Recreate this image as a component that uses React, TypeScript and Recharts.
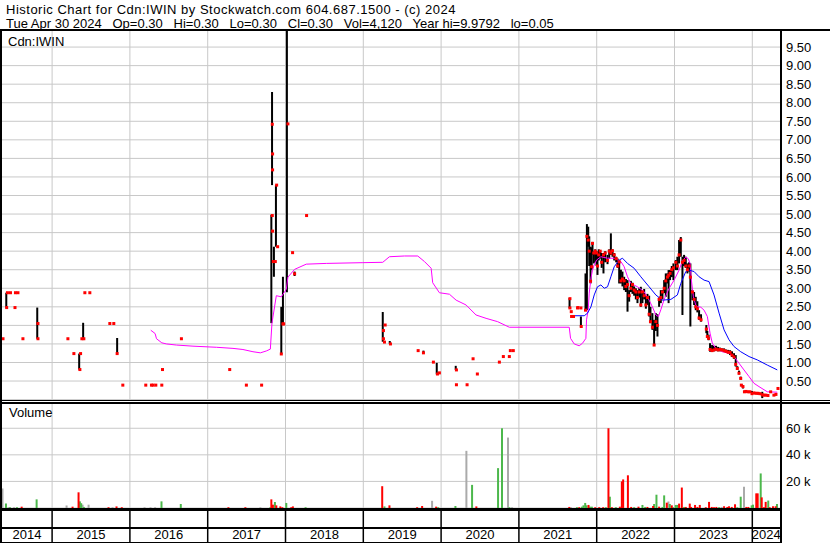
import { ComposedChart, Scatter, Line, XAxis, YAxis, CartesianGrid, ReferenceLine, ErrorBar } from 'recharts'

// time axis in fractional years
const T_START = 2014.356
const T_END = 2024.356
const yearBounds = [2015, 2016, 2017, 2018, 2019, 2020, 2021, 2022, 2023, 2024]
const yearNames = [2014, 2015, 2016, 2017, 2018, 2019, 2020, 2021, 2022, 2023, 2024]
const priceTicks = [0.5, 1, 1.5, 2, 2.5, 3, 3.5, 4, 4.5, 5, 5.5, 6, 6.5, 7, 7.5, 8, 8.5, 9, 9.5]
const volumeTicks = [20, 40, 60] // thousands

// sparse sessions: [t, low, high]
const rangesEarly: number[][] = [
  [2014.411, 2.48, 2.88], [2014.809, 1.64, 2.48], [2015.348, 0.81, 1.24], [2015.399, 1.64, 2.07],
  [2015.836, 1.24, 1.66],
  [2017.818, 2.06, 4.98], [2017.827, 5.78, 8.29], [2017.851, 3.31, 4.12], [2017.877, 4.12, 5.78],
  [2017.946, 1.23, 2.5], [2017.967, 2.04, 3.31], [2018.018, 2.89, 9.98], [2018.117, 3.33, 3.45],
  [2019.25, 1.56, 2.36], [2019.34, 1.5, 1.58], [2019.773, 1.26, 1.32], [2019.944, 0.68, 0.99],
  [2020.188, 0.8, 0.91], [2021.651, 2.46, 2.74], [2021.797, 1.95, 2.24],
]

// closes of the sparse sessions: [t, close]
const closesEarly: number[][] = [
  [2014.369, 1.64], [2014.416, 2.48], [2014.426, 2.88], [2014.465, 2.88], [2014.529, 2.88], [2014.561, 2.88],
  [2014.523, 2.48], [2014.625, 1.64], [2014.818, 2.05], [2014.818, 1.64], [2015.203, 1.64], [2015.28, 1.24],
  [2015.366, 1.24], [2015.357, 0.81], [2015.383, 1.64], [2015.408, 1.64], [2015.421, 2.88], [2015.485, 2.88],
  [2015.742, 2.05], [2015.793, 2.05], [2015.836, 1.24], [2015.909, 0.39], [2016.204, 0.39], [2016.277, 0.39],
  [2016.298, 0.39], [2016.333, 0.39], [2016.41, 0.39], [2016.419, 0.81], [2016.662, 1.64],
  [2017.283, 0.81], [2017.497, 0.39], [2017.693, 0.39], [2017.83, 7.42], [2017.834, 6.62], [2017.834, 6.19],
  [2017.83, 4.96], [2017.834, 4.54], [2017.843, 3.72], [2017.869, 3.72], [2017.886, 5.78], [2017.899, 4.12],
  [2017.946, 1.23], [2017.967, 2.04], [2017.976, 2.04], [2018.031, 7.43], [2018.091, 3.96], [2018.117, 3.39],
  [2018.271, 4.96],
  [2019.281, 2.01], [2019.259, 1.86], [2019.259, 1.64], [2019.272, 1.55], [2019.349, 1.5], [2019.705, 1.32],
  [2019.773, 1.26], [2019.901, 1.01], [2019.953, 0.69], [2019.978, 0.72], [2020.197, 0.8], [2020.197, 0.4],
  [2020.334, 0.4], [2020.411, 1.1], [2020.466, 0.69], [2020.749, 1.01], [2020.8, 1.16], [2020.877, 1.16],
  [2020.89, 1.32], [2020.928, 1.32], [2021.656, 2.72], [2021.656, 2.47], [2021.673, 2.37], [2021.677, 2.24],
  [2021.702, 2.24], [2021.754, 2.47], [2021.759, 2.48], [2021.797, 2.47], [2021.801, 1.97],
]

// active trading from late 2021: [t, low, high, close]
const sessionsLate: number[][] = [
  [2021.856, 2.41, 3.4, 2.41], [2021.874, 2.41, 4.73, 4.4], [2021.891, 4.12, 4.66, 4.3], [2021.904, 3.6, 4.4, 4.0],
  [2021.921, 3.13, 4.12, 3.19], [2021.936, 3.5, 4.1, 3.58], [2021.946, 3.9, 4.25, 4.21], [2021.962, 3.67, 3.99, 3.95],
  [2021.981, 3.7, 4.05, 4.0], [2021.998, 3.6, 4.0, 3.95], [2022.01, 3.36, 3.95, 3.6], [2022.026, 3.75, 4.05, 3.9],
  [2022.045, 3.8, 4.0, 4.0], [2022.064, 3.55, 3.95, 3.7], [2022.087, 3.4, 3.95, 3.9], [2022.109, 3.7, 4.0, 3.95],
  [2022.139, 3.65, 3.9, 3.75], [2022.161, 3.8, 4.05, 4.0], [2022.182, 3.9, 4.48, 3.95], [2022.203, 3.85, 4.05, 4.01],
  [2022.225, 3.75, 3.95, 3.9], [2022.25, 3.7, 3.85, 3.8], [2022.27, 3.55, 3.8, 3.6], [2022.289, 3.13, 3.76, 3.71],
  [2022.311, 3.13, 3.5, 3.2], [2022.331, 3.05, 3.45, 3.25], [2022.353, 2.95, 3.31, 3.2], [2022.375, 2.9, 3.25, 3.05],
  [2022.396, 2.37, 3.22, 3.1], [2022.417, 2.64, 2.95, 2.8], [2022.439, 2.9, 3.2, 3.0], [2022.46, 2.85, 3.15, 3.1],
  [2022.481, 2.8, 3.05, 2.95], [2022.503, 2.7, 3.0, 2.9], [2022.524, 2.6, 2.95, 2.75], [2022.546, 2.75, 3.0, 2.9],
  [2022.567, 2.5, 3.04, 2.55], [2022.588, 2.6, 2.95, 2.9], [2022.61, 2.7, 2.98, 2.8], [2022.632, 2.45, 2.8, 2.55],
  [2022.652, 2.55, 2.85, 2.75], [2022.674, 2.24, 2.8, 2.3], [2022.691, 2.06, 2.5, 2.1], [2022.716, 1.88, 2.33, 1.95],
  [2022.738, 1.47, 2.15, 1.47], [2022.76, 1.85, 2.33, 2.1], [2022.781, 1.7, 2.3, 2.0], [2022.802, 2.5, 2.75, 2.7],
  [2022.824, 2.6, 2.95, 2.75], [2022.845, 2.7, 2.95, 2.9], [2022.867, 2.87, 3.22, 3.0], [2022.888, 2.77, 3.4, 3.2],
  [2022.909, 3.13, 3.4, 3.3], [2022.924, 2.6, 3.49, 3.35], [2022.943, 3.22, 3.49, 3.4], [2022.965, 3.3, 3.6, 3.5],
  [2022.986, 3.22, 3.67, 3.55], [2023.017, 3.49, 3.76, 3.7], [2023.037, 3.49, 3.85, 3.6], [2023.059, 3.67, 4.3, 3.9],
  [2023.081, 3.85, 4.38, 4.3], [2023.102, 2.28, 3.85, 3.7], [2023.123, 3.6, 3.9, 3.75], [2023.145, 3.55, 3.85, 3.6],
  [2023.166, 3.4, 3.67, 3.5], [2023.187, 3.45, 3.7, 3.6], [2023.204, 1.97, 3.67, 3.3], [2023.23, 2.68, 2.95, 2.9],
  [2023.252, 2.55, 2.9, 2.7], [2023.273, 2.41, 2.77, 2.5], [2023.294, 2.35, 2.65, 2.45], [2023.316, 2.15, 2.41, 2.2],
  [2023.341, 2.1, 2.3, 2.15], [2023.409, 1.79, 2.01, 1.9], [2023.422, 1.7, 1.85, 1.7], [2023.438, 1.6, 1.75, 1.65],
  [2023.457, 1.29, 1.52, 1.35], [2023.483, 1.3, 1.47, 1.32], [2023.508, 1.3, 1.45, 1.34], [2023.534, 1.32, 1.45, 1.36],
  [2023.56, 1.3, 1.42, 1.34], [2023.585, 1.3, 1.4, 1.35], [2023.611, 1.3, 1.38, 1.34], [2023.637, 1.28, 1.38, 1.32],
  [2023.662, 1.26, 1.35, 1.3], [2023.688, 1.24, 1.34, 1.28], [2023.714, 1.2, 1.33, 1.27], [2023.739, 1.15, 1.3, 1.2],
  [2023.765, 1.1, 1.25, 1.15], [2023.787, 0.89, 1.2, 0.95], [2023.807, 0.8, 0.9, 0.84], [2023.829, 0.68, 0.78, 0.71],
  [2023.851, 0.55, 0.62, 0.57], [2023.859, 0.36, 0.42, 0.39], [2023.88, 0.3, 0.38, 0.35], [2023.899, 0.2, 0.24, 0.21],
  [2023.919, 0.2, 0.24, 0.22], [2023.944, 0.19, 0.23, 0.21], [2023.97, 0.18, 0.23, 0.21], [2023.996, 0.13, 0.23, 0.16],
  [2024.021, 0.15, 0.2, 0.18], [2024.047, 0.15, 0.19, 0.17], [2024.073, 0.14, 0.19, 0.17], [2024.098, 0.14, 0.18, 0.16],
  [2024.128, 0.04, 0.21, 0.13], [2024.15, 0.1, 0.15, 0.12], [2024.175, 0.1, 0.14, 0.12], [2024.201, 0.1, 0.14, 0.11],
  [2024.236, 0.18, 0.22, 0.21], [2024.278, 0.1, 0.14, 0.12], [2024.304, 0.12, 0.16, 0.14], [2024.33, 0.28, 0.32, 0.3],
]

// moving averages: [t, value]
const maShort: number[][] = [
  [2016.268, 1.87], [2016.324, 1.78], [2016.342, 1.64], [2016.41, 1.53], [2016.47, 1.5], [2016.598, 1.47],
  [2016.811, 1.44], [2017.112, 1.41], [2017.325, 1.38], [2017.453, 1.35], [2017.582, 1.29], [2017.677, 1.26],
  [2017.753, 1.31], [2017.805, 1.36], [2017.826, 2.06], [2017.882, 2.8], [2017.946, 2.77], [2018.01, 2.97],
  [2018.031, 3.3], [2018.117, 3.51], [2018.267, 3.65], [2018.524, 3.67], [2018.994, 3.69], [2019.25, 3.7],
  [2019.336, 3.85], [2019.529, 3.87], [2019.7, 3.87], [2019.786, 3.72], [2019.872, 3.54], [2019.892, 3.15],
  [2019.978, 2.88], [2020.107, 2.84], [2020.193, 2.68], [2020.321, 2.55], [2020.449, 2.28], [2020.578, 2.19],
  [2020.727, 2.1], [2020.877, 1.95], [2021.647, 1.95], [2021.664, 1.65], [2021.711, 1.5], [2021.775, 1.45],
  [2021.818, 1.52], [2021.861, 1.65], [2021.869, 2.15], [2021.891, 2.42], [2021.904, 2.87], [2021.926, 3.27],
  [2021.946, 3.49], [2021.968, 3.63], [2021.998, 3.76], [2022.054, 3.85], [2022.139, 3.81], [2022.225, 3.81],
  [2022.311, 3.72], [2022.353, 3.58], [2022.396, 3.31], [2022.439, 3.13], [2022.524, 3.04], [2022.61, 2.91],
  [2022.674, 2.68], [2022.716, 2.5], [2022.76, 2.28], [2022.793, 2.24], [2022.824, 2.42], [2022.867, 2.7],
  [2022.931, 3.0], [2022.995, 3.22], [2023.059, 3.49], [2023.102, 3.74], [2023.145, 3.84], [2023.175, 3.8],
  [2023.2, 3.67], [2023.217, 3.22], [2023.243, 2.77], [2023.273, 2.55], [2023.294, 2.5], [2023.338, 2.49],
  [2023.38, 2.41], [2023.422, 2.24], [2023.457, 1.79], [2023.486, 1.52], [2023.53, 1.38], [2023.615, 1.29],
  [2023.701, 1.25], [2023.765, 1.16], [2023.829, 0.98], [2023.893, 0.8], [2023.958, 0.62], [2024.021, 0.44],
  [2024.086, 0.35], [2024.193, 0.21], [2024.321, 0.2],
]
const maLong: number[][] = [
  [2021.69, 2.26], [2021.84, 2.26], [2021.882, 2.33], [2021.926, 2.5], [2021.968, 2.82], [2022.01, 3.04],
  [2022.054, 3.09], [2022.097, 3.0], [2022.139, 3.04], [2022.182, 3.31], [2022.225, 3.58], [2022.289, 3.76],
  [2022.331, 3.81], [2022.396, 3.67], [2022.481, 3.54], [2022.567, 3.31], [2022.674, 3.04], [2022.76, 2.82],
  [2022.845, 2.68], [2022.953, 2.7], [2023.037, 2.82], [2023.081, 3.13], [2023.145, 3.45], [2023.187, 3.49],
  [2023.252, 3.45], [2023.316, 3.31], [2023.38, 3.22], [2023.444, 3.18], [2023.508, 2.82], [2023.573, 2.33],
  [2023.637, 1.88], [2023.701, 1.61], [2023.765, 1.43], [2023.851, 1.29], [2023.958, 1.16], [2024.064, 1.07],
  [2024.193, 0.93], [2024.321, 0.8],
]

// volume in thousands: [t, volume]
const volUp: number[][] = [
  [2014.407, 3.4], [2014.458, 0.6], [2014.548, 0.6], [2014.801, 6.5], [2015.357, 5.0], [2015.374, 3.6],
  [2015.408, 0.8], [2016.406, 5.0], [2016.654, 3.0], [2017.805, 0.6], [2017.864, 4.5], [2018.01, 3.8],
  [2018.258, 0.6], [2019.272, 1.2], [2019.962, 0.6], [2020.184, 1.5], [2020.398, 17.4], [2020.732, 30],
  [2020.783, 60], [2020.877, 0.6], [2021.746, 0.6], [2021.81, 1.0], [2021.83, 2.0], [2021.852, 3.8],
  [2021.869, 2.0], [2021.913, 1.0], [2021.938, 1.0], [2022.118, 0.6], [2022.169, 8.5], [2022.246, 0.6],
  [2022.481, 0.6], [2022.588, 2.3], [2022.623, 0.8], [2022.738, 3.0], [2022.768, 10], [2022.845, 0.8],
  [2022.867, 9.5], [2022.94, 3.0], [2022.986, 0.6], [2023.017, 2.3], [2023.037, 2.3], [2023.123, 0.8],
  [2023.573, 0.6], [2023.807, 0.6], [2023.851, 8.5], [2023.992, 2.0], [2024.009, 2.5], [2024.108, 26],
  [2024.205, 5.6], [2024.317, 3.0],
]
const volDown: number[][] = [
  [2014.609, 1.0], [2015.263, 1.0], [2015.34, 11.8], [2015.725, 0.6], [2015.828, 1.2], [2015.896, 0.6],
  [2017.266, 0.6], [2017.484, 0.6], [2017.818, 6.5], [2017.838, 2.5], [2017.882, 2.0], [2017.933, 1.2],
  [2017.959, 0.6], [2018.074, 0.6], [2018.095, 1.2], [2019.243, 16.4], [2019.336, 2.0], [2019.692, 0.6],
  [2019.756, 1.5], [2019.936, 1.0], [2020.453, 1.2], [2021.647, 0.8], [2021.775, 0.6], [2021.895, 2.3],
  [2021.981, 0.6], [2022.032, 0.6], [2022.083, 0.6], [2022.151, 60], [2022.195, 0.6], [2022.298, 1.0],
  [2022.323, 20], [2022.34, 21.5], [2022.401, 24.6], [2022.443, 0.8], [2022.537, 1.0], [2022.652, 0.8],
  [2022.725, 1.5], [2022.802, 1.0], [2022.901, 4.0], [2022.965, 2.0], [2023.059, 3.3], [2023.094, 15.4],
  [2023.145, 0.8], [2023.196, 3.3], [2023.213, 0.8], [2023.264, 2.3], [2023.294, 0.8], [2023.325, 2.3],
  [2023.402, 0.6], [2023.444, 4.6], [2023.479, 0.8], [2023.508, 0.6], [2023.538, 0.8], [2023.637, 1.3],
  [2023.679, 0.8], [2023.701, 1.3], [2023.736, 0.8], [2023.778, 2.8], [2023.923, 0.8], [2023.949, 0.8],
  [2024.051, 11], [2024.069, 11], [2024.121, 8], [2024.15, 0.6], [2024.172, 4.6], [2024.223, 0.6],
  [2024.266, 1.3], [2024.3, 1.3],
]
const volFlat: number[][] = [
  [2014.362, 14.7], [2014.439, 0.6], [2014.51, 0.6], [2015.186, 1.9], [2015.392, 2.5], [2015.469, 2.5],
  [2015.777, 0.6], [2016.188, 0.6], [2016.265, 0.6], [2016.324, 0.6], [2017.677, 0.6], [2019.884, 5.4],
  [2020.325, 43], [2020.86, 53], [2020.912, 0.6], [2021.669, 0.6], [2022.922, 4.9], [2023.607, 0.8],
  [2023.893, 16],
]

const FONT = '"Liberation Sans", Arial, sans-serif'
const GRID = '#c8c8c8'
const W = 830

const toRanges = (rows: number[][]) => rows.map(([t, lo, hi]) => ({ t, y: lo, e: [0, hi - lo] }))
const toPoints = (rows: number[][]) => rows.map(([t, v]) => ({ t, y: v }))
const toVolumes = (rows: number[][]) => rows.map(([t, v]) => ({ t, y: v, e: [v, 0] }))

const rangeData = [...toRanges(rangesEarly), ...toRanges(sessionsLate)]
const closeData = [...toPoints(closesEarly), ...sessionsLate.map(([t, , , c]) => ({ t, y: c }))]
const stripTicks = [
  ...yearBounds,
  ...yearNames.map(y => (Math.max(y, T_START) + Math.min(y + 1, T_END)) / 2),
]

const Blank = () => <g />
const CloseMark = (p: any) => <rect x={p.cx - 1.5} y={p.cy - 1.5} width={3} height={3} fill="#ff0000" />

function YearTick(props: any) {
  const { x, y, payload } = props
  const v = payload.value
  if (Number.isInteger(v)) {
    return <line x1={x} x2={x} y1={y} y2={y + 35} stroke="#000" strokeWidth={1.5} />
  }
  return (
    <text x={x} y={y + 31} textAnchor="middle" fontSize={13} fontFamily={FONT} fill="#000">
      {Math.floor(v)}
    </text>
  )
}

const rule = (top: number, left: number, width: number, height: number) => (
  <div style={{ position: 'absolute', top, left, width, height, background: '#000' }} />
)

const label = (text: string, top: number, left: number, spacing = 0) => (
  <div
    style={{
      position: 'absolute', top, left, fontSize: 13, lineHeight: '13px', whiteSpace: 'pre',
      fontFamily: FONT, color: '#000', letterSpacing: spacing,
    }}
  >
    {text}
  </div>
)

export default function App() {
  return (
    <div style={{ position: 'absolute', top: 0, left: 0, width: W, height: 543, background: '#fff', overflow: 'hidden' }}>
      {label('Historic Chart for Cdn:IWIN by Stockwatch.com 604.687.1500 - (c) 2024', 2.5, 6, 0.5)}
      {label('Tue Apr 30 2024   Op=0.30   Hi=0.30   Lo=0.30   Cl=0.30   Vol=4,120   Year hi=9.9792   lo=0.05', 16.5, 6)}

      <div style={{ position: 'absolute', top: 0, left: 0 }}>
        <ComposedChart width={W} height={400} margin={{ top: 30, right: 0, bottom: 0.4, left: 2 }}>
          <CartesianGrid vertical={false} stroke={GRID} />
          <XAxis type="number" dataKey="t" domain={[T_START, T_END]} allowDataOverflow hide />
          <YAxis
            orientation="right"
            dataKey="y"
            type="number"
            domain={[0, 9.96]}
            allowDataOverflow
            ticks={priceTicks}
            interval={0}
            tickFormatter={(v: number) => v.toFixed(2)}
            width={50}
            tickSize={0}
            tickMargin={6}
            axisLine={false}
            tick={{ fontSize: 13, fill: '#000', fontFamily: FONT }}
          />
          {yearBounds.map(y => (
            <ReferenceLine key={y} x={y} stroke={GRID} />
          ))}
          <Scatter data={rangeData} shape={Blank} isAnimationActive={false}>
            <ErrorBar dataKey="e" direction="y" width={0} stroke="#000" strokeWidth={2} isAnimationActive={false} />
          </Scatter>
          <Line data={toPoints(maShort)} dataKey="y" type="linear" stroke="#ff00ff" strokeWidth={1} dot={false} isAnimationActive={false} />
          <Line data={toPoints(maLong)} dataKey="y" type="linear" stroke="#0000ff" strokeWidth={1} dot={false} isAnimationActive={false} />
          <Scatter data={closeData} shape={CloseMark} isAnimationActive={false} />
        </ComposedChart>
      </div>

      <div style={{ position: 'absolute', top: 400, left: 0 }}>
        <ComposedChart width={W} height={143} margin={{ top: 3, right: 0, bottom: 0, left: 2 }}>
          <CartesianGrid vertical={false} stroke={GRID} />
          <XAxis
            type="number"
            dataKey="t"
            domain={[T_START, T_END]}
            allowDataOverflow
            ticks={stripTicks}
            interval={0}
            height={35}
            tickSize={0}
            tickMargin={0}
            tickLine={false}
            axisLine={false}
            tick={YearTick}
          />
          <YAxis
            orientation="right"
            dataKey="y"
            type="number"
            domain={[0, 79]}
            allowDataOverflow
            ticks={volumeTicks}
            interval={0}
            tickFormatter={(v: number) => `${v} k`}
            width={50}
            tickSize={0}
            tickMargin={6}
            axisLine={false}
            tick={{ fontSize: 13, fill: '#000', fontFamily: FONT }}
          />
          {yearBounds.map(y => (
            <ReferenceLine key={y} x={y} stroke={GRID} />
          ))}
          <Scatter data={toVolumes(volFlat)} shape={Blank} isAnimationActive={false}>
            <ErrorBar dataKey="e" direction="y" width={0} stroke="#aaaaaa" strokeWidth={2} isAnimationActive={false} />
          </Scatter>
          <Scatter data={toVolumes(volUp)} shape={Blank} isAnimationActive={false}>
            <ErrorBar dataKey="e" direction="y" width={0} stroke="#4cb84c" strokeWidth={2} isAnimationActive={false} />
          </Scatter>
          <Scatter data={toVolumes(volDown)} shape={Blank} isAnimationActive={false}>
            <ErrorBar dataKey="e" direction="y" width={0} stroke="#ff0000" strokeWidth={2} isAnimationActive={false} />
          </Scatter>
        </ComposedChart>
      </div>

      {label('Cdn:IWIN', 35, 8)}
      {label('Volume', 406, 9)}

      {rule(29, 0, W, 2)}
      {rule(29, 0, 2, 514)}
      {rule(29, 780, 2, 514)}
      {rule(399.5, 0, W, 1.5)}
      {rule(402, 0, W, 1.5)}
      {rule(508, 0, 782, 2.5)}
      {rule(526.5, 0, 782, 2)}
      {rule(541.5, 0, 782, 1.5)}
    </div>
  )
}
